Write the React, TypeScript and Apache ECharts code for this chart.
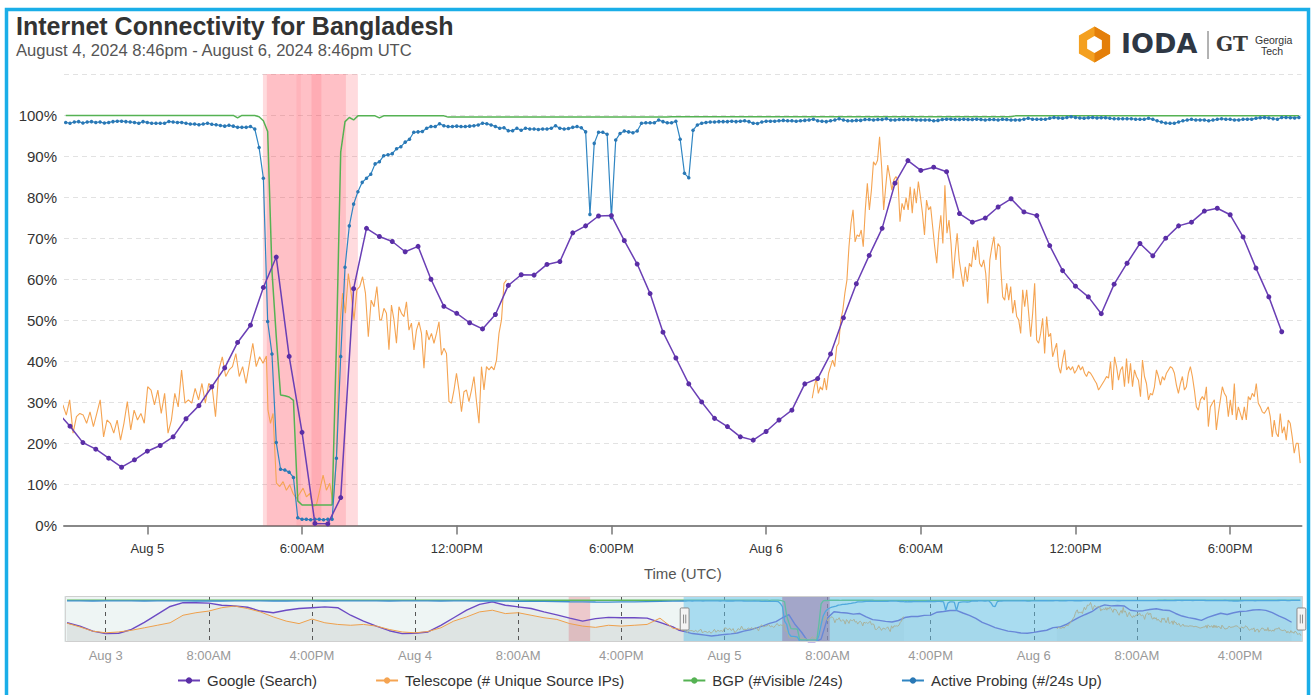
import React, { useEffect, useRef } from 'react';
import * as echarts from 'echarts';

const FONT = "'Liberation Sans', Arial, Helvetica, sans-serif";
const MIN = 60 * 1000;
const T_START = Date.UTC(2024, 7, 4, 20, 46);
const T_END = Date.UTC(2024, 7, 6, 20, 46);
const NAV_START = Date.UTC(2024, 7, 2, 20, 46);

const seriesNames = ['Google (Search)', 'Telescope (# Unique Source IPs)', 'BGP (#Visible /24s)', 'Active Probing (#/24s Up)'];
const seriesColors = ['#6a3fb5', '#f5a452', '#55b253', '#2f85c2'];

const mainTicks = [
  Date.UTC(2024, 7, 5, 0), Date.UTC(2024, 7, 5, 6), Date.UTC(2024, 7, 5, 12), Date.UTC(2024, 7, 5, 18),
  Date.UTC(2024, 7, 6, 0), Date.UTC(2024, 7, 6, 6), Date.UTC(2024, 7, 6, 12), Date.UTC(2024, 7, 6, 18),
];
const navTicks = [
  Date.UTC(2024, 7, 3, 0), Date.UTC(2024, 7, 3, 8), Date.UTC(2024, 7, 3, 16),
  Date.UTC(2024, 7, 4, 0), Date.UTC(2024, 7, 4, 8), Date.UTC(2024, 7, 4, 16),
  Date.UTC(2024, 7, 5, 0), Date.UTC(2024, 7, 5, 8), Date.UTC(2024, 7, 5, 16),
  Date.UTC(2024, 7, 6, 0), Date.UTC(2024, 7, 6, 8), Date.UTC(2024, 7, 6, 16),
];

// Alert bands (UTC)
const outageBands = [
  ['2024-08-05T04:29:00Z', '2024-08-05T08:10:00Z'],
  ['2024-08-05T04:38:00Z', '2024-08-05T07:42:00Z'],
  ['2024-08-05T05:47:00Z', '2024-08-05T05:57:00Z'],
  ['2024-08-05T06:22:00Z', '2024-08-05T06:45:00Z'],
];
const navBands = [
  ['2024-08-04T11:55:00Z', '2024-08-04T13:35:00Z'],
  ['2024-08-05T04:29:00Z', '2024-08-05T08:10:00Z'],
];

// Google (Search): every 30 min starting Aug 4 20:30 UTC
const googleValues = [
  27.7, 24.2, 20.2, 18.6, 16.4, 14.2, 16.0, 18.1, 19.5, 21.6, 26.0, 29.2, 33.8, 38.4, 44.6, 48.8,
  58.0, 65.4, 41.2, 22.7, 0.5, 0.4, 6.8, 57.7, 72.4, 70.4, 69.2, 66.7, 68.0, 60.0, 53.4, 51.7,
  49.4, 47.9, 51.4, 58.5, 61.1, 61.0, 63.6, 64.3, 71.3, 73.0, 75.4, 75.5, 69.4, 63.7, 56.5, 47.1,
  40.8, 34.5, 30.1, 26.1, 24.1, 21.6, 20.8, 22.9, 25.7, 28.1, 34.5, 35.8, 41.8, 50.6, 58.9, 65.8,
  72.4, 83.4, 88.9, 86.5, 87.3, 86.2, 76.0, 73.9, 74.9, 77.6, 79.6, 76.4, 75.5, 68.2, 62.1, 58.3,
  55.7, 51.6, 58.8, 63.9, 68.7, 65.7, 70.0, 73.0, 73.9, 76.6, 77.3, 75.7, 70.3, 62.7, 55.7, 47.2,
];

// Active Probing: every 10 min starting Aug 4 20:50 UTC
const probingValues = [
  98.2, 98.0, 98.3, 98.4, 98.05, 98.3, 98.4, 98.2, 98.3, 98.05, 98.2, 98.4, 98.5, 98.5, 98.4, 98.3,
  98.2, 98.0, 98.4, 98.2, 98.0, 98.0, 98.0, 98.0, 98.45, 98.3, 98.2, 98.2, 98.0, 97.8, 97.8, 97.65,
  97.8, 98.0, 97.75, 97.65, 97.45, 97.3, 97.5, 97.3, 97.0, 97.0, 97.0, 97.2, 96.6,
  92.1, 84.6, 49.7, 41.8, 20.2, 13.7, 13.5, 13.0, 11.7, 1.9, 1.5, 1.5, 1.4, 1.5, 1.5, 1.4, 1.5, 1.5,
  16.4, 41.2, 62.9, 73.0, 78.3, 81.3, 83.6, 84.6, 85.6, 88.1, 88.6,
  90.1, 90.3, 90.6, 91.8, 92.3, 93.4, 94.1, 95.8, 95.9, 96.0, 96.8, 97.2, 97.2, 97.9, 97.4, 97.2,
  97.2, 97.3, 97.2, 97.2, 97.3, 97.4, 97.6, 98.0, 97.9, 97.6, 97.2, 96.8, 96.9, 96.2, 96.2, 96.8,
  96.3, 96.8, 96.6, 96.6, 96.5, 96.6, 96.6, 96.8, 97.4, 96.8, 96.6, 96.7, 97.0, 97.2, 96.9, 95.9,
  75.8, 93.1, 95.8, 95.8, 95.3, 75.0, 93.9, 95.5, 96.1, 95.9, 95.7, 96.1, 98.0, 98.1, 98.1, 98.1,
  98.8, 98.4, 98.1, 98.1, 98.5, 94.1, 85.8, 84.7, 96.3, 97.6, 98.0,
  98.2, 98.3, 98.3, 98.4, 98.4, 98.4, 98.5, 98.4, 98.5, 98.6, 98.4, 98.0, 97.95, 98.3, 98.5, 98.5,
  98.5, 98.6, 98.7, 98.6, 98.6, 98.5, 98.6, 98.7, 98.8, 99.0, 98.6, 98.5, 98.4, 98.6, 98.8, 99.1,
  98.8, 98.6, 98.6, 98.7, 98.7, 98.9, 98.9, 98.8, 98.9, 98.9, 99.1, 98.8, 98.8, 98.9, 98.9, 98.9,
  98.9, 98.8, 98.8, 98.8, 98.8, 98.6, 98.7, 98.9, 99.0, 99.0, 98.9, 98.9, 99.0, 98.9, 98.9, 99.0,
  98.9, 98.8, 98.9, 98.9, 98.8,
  98.95, 98.9, 98.8, 98.8, 98.8, 99.0, 99.2, 99.0, 98.95, 98.95, 98.95, 99.2, 99.4, 99.3, 99.2, 99.4,
  99.6, 99.4, 99.3, 99.2, 99.35, 99.4, 99.3, 99.35, 99.35, 99.2, 99.1, 99.1, 99.1, 99.1, 99.1, 99.0,
  98.95, 98.95, 99.2, 98.95, 98.6, 98.3, 98.05, 98.0, 98.0, 98.3, 98.6, 98.8, 98.95, 98.8, 98.8, 98.8,
  98.6, 98.8, 98.95, 99.1, 99.0, 98.95, 98.8, 98.8, 98.95, 99.0, 99.0, 99.2, 99.35, 99.4, 99.3, 99.1,
  99.0, 99.4, 99.4, 99.35, 99.3, 99.4,
];

// BGP: every 10 min starting Aug 4 20:50 UTC
const bgpValues = [
  99.9, 99.9, 99.9, 99.9, 99.9, 99.9, 99.9, 99.9, 99.9, 99.9, 99.9, 99.9,
  99.9, 99.9, 99.9, 99.9, 99.9, 99.9, 99.9, 99.9, 99.9, 99.9, 99.9, 99.9,
  99.9, 99.9, 99.9, 99.9, 99.9, 99.9, 99.9, 99.9, 99.9, 99.9, 99.9, 99.9,
  99.9, 99.9, 99.9, 99.9, 99.3, 99.9, 99.9, 99.9, 99.9, 99.6, 98.6, 96.0,
  62.0, 46.0, 31.8, 31.6, 31.3, 30.5, 6.0, 5.0, 5.0, 5.0, 5.0, 5.0,
  5.0, 5.0, 5.0, 44.0, 91.0, 98.4, 99.4, 98.8, 99.8, 99.8, 99.8, 99.8,
  99.8, 99.3, 99.8, 99.8, 99.8, 99.8, 99.8, 99.8, 99.8, 99.8, 99.8, 99.8,
  99.8, 99.8, 99.8, 99.8, 99.8, 99.5, 99.5, 99.5, 99.5, 99.5, 99.5, 99.5,
  99.5, 99.5, 99.5, 99.5, 99.5, 99.5, 99.5, 99.5, 99.5, 99.5, 99.5, 99.5,
  99.5, 99.5, 99.5, 99.5, 99.5, 99.5, 99.5, 99.5, 99.5, 99.5, 99.5, 99.5,
  99.5, 99.5, 99.5, 99.5, 99.5, 99.5, 99.5, 99.5, 99.5, 99.5, 99.5, 99.5,
  99.5, 99.5, 99.5, 99.5, 99.5, 99.5, 99.5, 99.5, 99.5, 99.6, 99.6, 99.6,
  99.6, 99.6, 99.6, 99.6, 99.6, 99.6, 99.6, 99.6, 99.6, 99.6, 99.6, 99.6,
  99.6, 99.6, 99.6, 99.6, 99.6, 99.6, 99.6, 99.6, 99.6, 99.6, 99.6, 99.6,
  99.6, 99.6, 99.6, 99.6, 99.6, 99.6, 99.6, 99.6, 99.6, 99.6, 99.6, 99.6,
  99.6, 99.6, 99.6, 99.6, 99.6, 99.6, 99.6, 99.6, 99.6, 99.6, 99.6, 99.6,
  99.6, 99.6, 99.6, 99.6, 99.6, 99.6, 99.6, 99.6, 99.6, 99.6, 99.6, 99.6,
  99.6, 99.6, 99.6, 99.6, 99.6, 99.6, 99.6, 99.6, 99.6, 99.6, 99.6, 99.6,
  99.6, 99.6, 99.6, 99.6, 99.6, 99.8, 99.8, 99.8, 99.8, 99.8, 99.8, 99.8,
  99.8, 99.8, 99.8, 99.8, 99.8, 99.8, 99.8, 99.8, 99.8, 99.8, 99.8, 99.8,
  99.8, 99.8, 99.8, 99.8, 99.8, 99.8, 99.8, 99.8, 99.8, 99.8, 99.8, 99.8,
  99.8, 99.8, 99.8, 99.8, 99.8, 99.8, 99.8, 99.8, 99.8, 99.8, 99.8, 99.8,
  99.8, 99.8, 99.8, 99.8, 99.8, 99.8, 99.8, 99.8, 99.8, 99.8, 99.8, 99.8,
  99.8, 99.8, 99.8, 99.8, 99.8, 99.8, 99.8, 99.8, 99.8, 99.8, 99.8, 99.8,
];

// Telescope: runs of readings, each run spans [fromMin, toMin] after Aug 4 20:46 UTC
const telescopeRuns = [
  [-2.6, 471.0], [474.7, 486.4], [494.3, 634.0], [641.7, 734.8], [738.8, 1029.8],
  [1741.3, 2178.4], [2180.0, 2877.0],
];
const telescopeA = [
  29.4, 26.9, 30.6, 22.5, 26.5, 27.3, 26.9, 24.9, 27.7, 24.1, 27.3, 30.6, 21.6, 25.7, 24.9, 22.5,
  25.7, 20.8, 24.9, 30.2, 23.3, 28.1, 25.7, 27.3, 24.9, 33.8, 33.0, 29.4, 33.0, 27.3, 32.2, 22.5,
  25.7, 32.2, 28.9, 37.9, 29.8, 30.6, 29.8, 33.4, 30.6, 34.6, 29.8, 34.6, 33.8, 26.5, 37.9, 41.1,
  36.3, 37.9, 38.7, 41.9, 36.3, 38.7, 34.6, 39.5, 44.4, 38.7, 41.1, 39.5, 41.3,
];
const telescopeB = [28.1, 24.9, 27.3];
const telescopeC = [10.3, 9.5, 10.7, 8.6, 9.9, 7.8, 6.6, 7.8, 9.1, 7.0, 7.8, 4.6, 5.0, 8.6, 12.3, 8.6, 10.3, 5.4, 16.0];
const telescopeD = [48.4, 56.6, 51.7, 61.4, 56.6, 50.1, 57.4, 58.2, 60.6, 56.6, 46.0, 54.9, 53.3, 58.2, 50.1];
const telescopeE = [
  50.1, 52.9, 51.7, 42.8, 53.7, 50.1, 44.4, 53.3, 51.7, 50.9, 54.5, 47.6, 49.3, 42.8, 47.6, 49.6,
  46.8, 38.3, 47.6, 45.2, 46.8, 44.4, 46.8, 49.6, 41.5, 43.2, 41.9, 30.2, 29.8, 33.0, 37.1, 33.0,
  27.7, 32.6, 33.0, 30.2, 33.0, 36.3, 30.2, 24.9, 38.7, 33.0, 38.7, 37.9, 38.7, 37.9, 40.3, 46.8,
  50.1, 59.0, 59.8,
];
const telescopeF = [
  31.0, 33.8, 35.9, 32.2, 33.8, 33.0, 35.9, 33.0, 37.1, 38.7, 40.3, 38.7, 43.6, 44.4, 50.1, 52.5,
  56.6, 59.8, 67.9, 73.6, 76.9, 69.1, 70.8, 70.4, 72.0, 67.9, 76.9, 83.4, 76.9, 81.7, 88.6, 87.8,
  89.0, 94.7, 87.4, 76.9, 82.5, 87.8, 85.0, 81.7, 84.2, 85.0, 84.2, 74.0, 78.5, 76.9, 79.9, 76.9,
  82.5, 76.1, 82.1, 78.5, 83.8, 80.1, 76.1, 70.8, 79.3, 76.9, 77.7, 72.8, 67.9, 63.9, 71.2, 75.6,
  68.7, 82.9, 71.2, 74.4, 68.7, 60.2, 66.3, 71.2, 64.7, 61.4, 58.2, 63.0, 59.4, 63.9, 63.0, 67.9,
  64.7, 69.5, 63.9, 63.0, 64.7, 61.4, 54.1, 64.7, 67.9, 70.4, 64.7, 68.7, 67.9,
];
const telescopeG = [
  63.0, 55.7, 54.9, 59.0, 54.9, 58.2, 51.7, 54.9, 50.9, 50.1, 46.8, 57.4, 53.3, 57.4, 51.7, 46.0,
  51.7, 59.0, 45.2, 44.4, 46.8, 50.5, 41.9, 50.9, 46.0, 46.8, 41.1, 42.8, 44.4, 38.7, 37.1, 40.3,
  42.8, 37.9, 38.7, 37.9, 38.7, 37.1, 37.9, 39.1, 37.9, 38.7, 37.1, 36.3, 37.5, 37.1, 36.3, 35.4,
  34.6, 33.0, 33.8, 34.6, 35.4, 36.3, 35.9, 39.9, 33.0, 41.1, 38.7, 35.4, 37.9, 38.7, 33.8, 40.7,
  34.6, 39.5, 33.8, 37.9, 36.3, 35.4, 31.4, 40.3, 36.3, 34.6, 30.6, 32.2, 31.8, 33.8, 37.9, 36.3,
  34.2, 36.3, 35.4, 37.1, 37.9, 38.7, 38.3, 37.1, 34.2, 32.2, 34.6, 36.3, 33.0, 33.8, 37.1, 38.7,
  36.3, 33.0, 28.9, 28.1, 30.6, 31.4, 30.6, 33.8, 24.1, 28.9, 29.8, 30.6, 23.3, 27.3, 30.6, 33.8,
  32.2, 31.4, 26.5, 30.6, 26.9, 34.6, 25.7, 28.9, 27.3, 25.7, 28.9, 25.7, 31.4, 30.6, 32.2, 31.4,
  34.6, 29.8, 28.9, 27.7, 27.3, 28.1, 28.9, 26.5, 21.6, 25.7, 22.5, 21.6, 27.3, 22.5, 24.1, 20.8,
  25.7, 24.9, 21.6, 17.6, 20.0, 20.0, 15.2,
];
const telescopeRunValues = [telescopeA, telescopeB, telescopeC, telescopeD, telescopeE, telescopeF, telescopeG];

// Navigator: hourly readings for the 48 h before the window, starting Aug 2 21:00 UTC
const googlePrev = [
  46, 38, 26, 20, 21, 30, 47, 66, 85, 94, 94, 93, 88, 86, 83, 74, 70, 76, 80, 82, 84, 82, 64, 50,
  38, 27, 20, 21, 24, 40, 58, 76, 90, 96, 88, 84, 80, 72, 65, 57, 50, 56, 59, 58, 58, 57, 47, 36,
];
const telescopePrev = [
  45, 36, 26, 22, 24, 28, 34, 40, 46, 64, 70, 74, 82, 86, 80, 72, 60, 50, 44, 55, 46, 42, 40, 42,
  38, 30, 24, 22, 25, 34, 50, 60, 72, 76, 68, 70, 64, 58, 54, 44, 38, 35, 40, 38, 40, 42, 57, 33,
];
const probingPrev = [
  98.2, 98.3, 98.1, 98.4, 98.2, 98.3, 98.0, 98.2, 98.4, 98.3, 98.1, 98.2, 98.0, 98.3, 98.2, 98.4,
  98.1, 98.0, 98.2, 98.3, 98.1, 98.2, 98.4, 98.3, 98.2, 98.0, 98.3, 98.4, 98.2, 98.1, 98.3, 98.2,
  98.0, 98.1, 97.8, 97.5, 97.2, 97.0, 96.6, 96.2, 96.0, 95.6, 95.4, 95.8, 96.0, 96.6, 97.2, 97.8,
];
const bgpPrev = [
  99.9, 99.9, 99.9, 99.9, 99.9, 99.9, 99.9, 99.9, 99.9, 99.9, 99.9, 99.9, 99.9, 99.9, 99.9, 99.9,
  99.9, 99.9, 99.9, 99.9, 99.9, 99.9, 99.9, 99.9, 99.9, 99.9, 99.9, 99.9, 99.9, 99.9, 99.9, 99.9,
  99.9, 99.9, 99.9, 99.9, 99.8, 99.8, 99.8, 99.8, 99.8, 99.8, 99.8, 99.8, 99.8, 99.8, 99.8, 99.9,
];

// ---------- build series data ----------
const googleData = googleValues.map((v, i) => [T_START - 16 * MIN + i * 30 * MIN, v]);
const probingData = probingValues.map((v, j) => [T_START + 4 * MIN + j * 10 * MIN, v]);
const bgpData = bgpValues.map((v, j) => [T_START + 4 * MIN + j * 10 * MIN, v]);
const telescopeData: any[] = [];
telescopeRuns.forEach((run, r) => {
  const vals = telescopeRunValues[r];
  const n = vals.length;
  if (r === 5) telescopeData.push([T_START + 1400 * MIN, null]);
  vals.forEach((v, k) => {
    const m = n > 1 ? run[0] + ((run[1] - run[0]) * k) / (n - 1) : run[0];
    telescopeData.push([T_START + m * MIN, v]);
  });
});
const prevTime = (i: number) => NAV_START + 14 * MIN + i * 60 * MIN;
const navGoogle = googlePrev.map((v, i) => [prevTime(i), v]).concat(googleData);
const navTelescope = telescopePrev.map((v, i) => [prevTime(i), v]).concat(telescopeData);
const navProbing = probingPrev.map((v, i) => [prevTime(i), v]).concat(probingData);
const navBgp = bgpPrev.map((v, i) => [prevTime(i), v]).concat(bgpData);

function fmtTime(v: number) {
  const d = new Date(v);
  const h = d.getUTCHours();
  if (h === 0) return 'Aug ' + d.getUTCDate();
  const h12 = h % 12 === 0 ? 12 : h % 12;
  return h12 + ':00' + (h < 12 ? 'AM' : 'PM');
}

const bandColors = ['rgba(255,40,60,0.17)', 'rgba(255,40,60,0.15)', 'rgba(255,40,60,0.08)', 'rgba(255,40,60,0.13)'];
const navBandColors = ['rgba(235,120,130,0.35)', 'rgba(215,30,90,0.5)'];

function hexPoints(cx: number, cy: number, r: number) {
  const pts: number[][] = [];
  for (let i = 0; i < 6; i++) {
    const a = ((-90 + 60 * i) * Math.PI) / 180;
    pts.push([cx + r * Math.cos(a), cy + r * Math.sin(a)]);
  }
  return pts;
}

function buildOption() {
  const lineBase = {
    type: 'line',
    animation: false,
    emphasis: { disabled: true },
    silent: true,
  };
  const hc = [1094.5, 44.5];
  const outer = hexPoints(hc[0], hc[1], 18);
  return {
    animation: false,
    backgroundColor: '#ffffff',
    textStyle: { fontFamily: FONT },
    graphic: [
      { type: 'rect', silent: true, shape: { x: 6.5, y: 9.5, width: 1302, height: 700 }, style: { fill: 'none', stroke: '#1aaee8', lineWidth: 3.5 } },
      { type: 'text', left: 16, top: 13, style: { text: 'Internet Connectivity for Bangladesh', fill: '#333', font: `bold 25px ${FONT}` } },
      { type: 'text', left: 16, top: 42, style: { text: 'August 4, 2024 8:46pm - August 6, 2024 8:46pm UTC', fill: '#555', font: `16.6px ${FONT}` } },
      { type: 'polygon', silent: true, shape: { points: outer }, style: { fill: '#f4a020' } },
      { type: 'polygon', silent: true, shape: { points: [outer[0], outer[1], outer[2], outer[3]] }, style: { fill: '#e47f0a' } },
      { type: 'polygon', silent: true, shape: { points: hexPoints(hc[0], hc[1], 8.5) }, style: { fill: '#ffffff' } },
      { type: 'text', left: 1121, top: 30, style: { text: 'IODA', fill: '#2e3744', font: `bold 27px 'DejaVu Sans', ${FONT}` } },
      { type: 'line', silent: true, shape: { x1: 1208, y1: 31, x2: 1208, y2: 59 }, style: { stroke: '#666', lineWidth: 1 } },
      { type: 'text', left: 1216, top: 34, style: { text: 'GT', fill: '#3a3a3a', font: `bold 20px 'DejaVu Serif', serif` } },
      { type: 'text', left: 1255, top: 34, style: { text: 'Georgia', fill: '#333', font: `10.5px ${FONT}` } },
      { type: 'text', left: 1261, top: 45, style: { text: 'Tech', fill: '#333', font: `10.5px ${FONT}` } },
    ],
    legend: {
      data: seriesNames,
      left: 177,
      top: 673,
      padding: 0,
      itemWidth: 22,
      itemHeight: 8,
      itemGap: 58,
      selectedMode: false,
      textStyle: { fontSize: 15, color: '#333', fontFamily: FONT, padding: [0, 0, 0, 2] },
    },
    grid: [
      { left: 64, right: 9.5, top: 74, bottom: 169.5 },
      { left: 64, right: 9.5, top: 596, height: 46, show: true, backgroundColor: '#eef5f4', borderWidth: 0 },
    ],
    xAxis: [
      {
        type: 'value', gridIndex: 0, min: NAV_START, max: T_END, scale: true,
        name: 'Time (UTC)', nameLocation: 'middle', nameGap: 40,
        nameTextStyle: { fontSize: 15, color: '#555', fontFamily: FONT },
        axisLine: { lineStyle: { color: '#888', width: 2 } },
        axisTick: { show: true, customValues: mainTicks, length: 9, lineStyle: { color: '#777', width: 1.5 } },
        axisLabel: { customValues: mainTicks, formatter: fmtTime, fontSize: 13, color: '#333', margin: 16, fontFamily: FONT },
        splitLine: { show: false },
      },
      {
        type: 'value', gridIndex: 1, min: NAV_START, max: T_END, scale: true,
        axisLine: { show: false },
        axisTick: { show: false, customValues: navTicks },
        axisLabel: { customValues: navTicks, formatter: fmtTime, fontSize: 13, color: '#999', margin: 7, fontFamily: FONT },
        splitLine: { show: true, lineStyle: { color: '#555', type: [4, 4], width: 1 } },
      },
    ],
    yAxis: [
      {
        type: 'value', gridIndex: 0, min: 0, max: 110, interval: 10,
        axisLine: { show: false }, axisTick: { show: false },
        axisLabel: { formatter: (v: number) => (v === 110 ? '' : v + '%'), fontSize: 15, color: '#333', margin: 7, fontFamily: FONT },
        splitLine: { lineStyle: { color: '#e2e2e2', type: [5, 4], width: 1 } },
      },
      { type: 'value', gridIndex: 1, min: 0, max: 110, show: false, splitLine: { show: false } },
    ],
    dataZoom: [
      {
        type: 'slider', xAxisIndex: 0, start: 50, end: 100,
        left: 64, right: 9.5, top: 596, height: 46,
        filterMode: 'none', showDataShadow: false, showDetail: false, brushSelect: false,
        backgroundColor: 'rgba(0,0,0,0)',
        fillerColor: 'rgba(100,195,235,0.5)',
        borderColor: '#cfcfcf',
        handleIcon: 'path://M1,0L7,0Q8,0,8,1L8,19Q8,20,7,20L1,20Q0,20,0,19L0,1Q0,0,1,0ZM3,6L3,14M5,6L5,14',
        handleSize: '48%',
        handleStyle: { color: '#f3f3f3', borderColor: '#8a8a8a', borderWidth: 1 },
        moveHandleSize: 0,
        moveHandleStyle: { opacity: 0 },
        emphasis: { handleStyle: { color: '#f3f3f3', borderColor: '#8a8a8a' }, moveHandleStyle: { opacity: 0 } },
      },
    ],
    series: [
      {
        ...lineBase, name: 'alerts', xAxisIndex: 0, yAxisIndex: 0, data: [], z: 1,
        markArea: {
          silent: true,
          data: outageBands.map((b, i) => [
            { xAxis: Date.parse(b[0]), itemStyle: { color: bandColors[i] } },
            { xAxis: Date.parse(b[1]) },
          ]),
        },
      },
      {
        ...lineBase, name: seriesNames[0], xAxisIndex: 0, yAxisIndex: 0, data: googleData,
        symbol: 'circle', symbolSize: 5, showSymbol: true, showAllSymbol: true,
        lineStyle: { width: 1.5, color: seriesColors[0] }, itemStyle: { color: '#5a2ea6' }, z: 3,
      },
      {
        ...lineBase, name: seriesNames[1], xAxisIndex: 0, yAxisIndex: 0, data: telescopeData,
        symbol: 'circle', symbolSize: 4, showSymbol: false, connectNulls: false,
        lineStyle: { width: 1.1, color: seriesColors[1] }, itemStyle: { color: seriesColors[1] }, z: 2,
      },
      {
        ...lineBase, name: seriesNames[2], xAxisIndex: 0, yAxisIndex: 0, data: bgpData,
        symbol: 'circle', symbolSize: 4, showSymbol: false,
        lineStyle: { width: 1.5, color: seriesColors[2] }, itemStyle: { color: seriesColors[2] }, z: 2,
      },
      {
        ...lineBase, name: seriesNames[3], xAxisIndex: 0, yAxisIndex: 0, data: probingData,
        symbol: 'circle', symbolSize: 3.5, showSymbol: true, showAllSymbol: true,
        lineStyle: { width: 1.2, color: seriesColors[3] }, itemStyle: { color: '#2a78b5' }, z: 2,
      },
      {
        ...lineBase, name: 'nav-alerts', xAxisIndex: 1, yAxisIndex: 1, data: [], z: 1,
        markArea: {
          silent: true,
          data: navBands.map((b, i) => [
            { xAxis: Date.parse(b[0]), itemStyle: { color: navBandColors[i] } },
            { xAxis: Date.parse(b[1]) },
          ]),
        },
      },
      {
        ...lineBase, name: 'nav-google', xAxisIndex: 1, yAxisIndex: 1, data: navGoogle, symbol: 'none',
        lineStyle: { width: 1.4, color: '#6c4bc4' }, areaStyle: { color: 'rgba(110,110,110,0.09)' },
      },
      {
        ...lineBase, name: 'nav-telescope', xAxisIndex: 1, yAxisIndex: 1, data: navTelescope, symbol: 'none',
        lineStyle: { width: 1, color: '#eea04c' }, areaStyle: { color: 'rgba(110,110,110,0.09)' },
      },
      {
        ...lineBase, name: 'nav-bgp', xAxisIndex: 1, yAxisIndex: 1, data: navBgp, symbol: 'none',
        lineStyle: { width: 1.3, color: '#5cb85c' },
      },
      {
        ...lineBase, name: 'nav-probing', xAxisIndex: 1, yAxisIndex: 1, data: navProbing, symbol: 'none',
        lineStyle: { width: 1.3, color: '#3c8fd0' },
      },
    ],
  };
}

export default function App() {
  const ref = useRef<HTMLDivElement>(null);
  useEffect(() => {
    if (!ref.current) return;
    const chart = echarts.init(ref.current, undefined, { renderer: 'svg' });
    chart.setOption(buildOption() as any);
    return () => chart.dispose();
  }, []);
  return (
    <div
      ref={ref}
      style={{ position: 'fixed', left: 0, top: 0, width: 1311, height: 695, background: '#ffffff' }}
    />
  );
}
